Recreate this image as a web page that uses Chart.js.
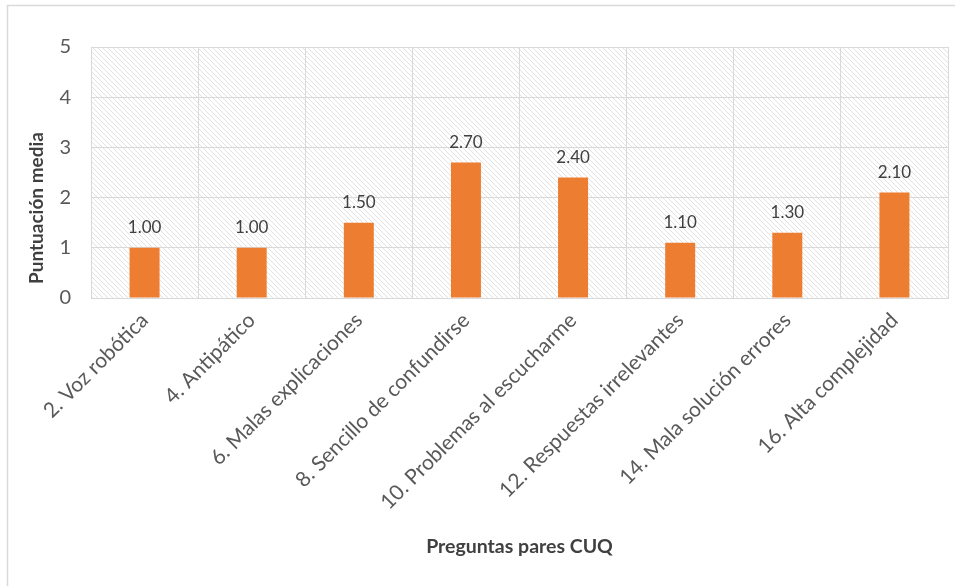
<!DOCTYPE html>
<html>
<head>
<meta charset="utf-8">
<script src="https://cdn.jsdelivr.net/npm/chart.js@4/dist/chart.umd.min.js"></script>
<style>
  html, body { margin: 0; padding: 0; background: #ffffff; }
  #wrap { width: 955px; height: 586px; position: relative; }
</style>
</head>
<body>
<div id="wrap"><canvas id="c" width="955" height="586"></canvas></div>
<script>
// Question labels (even CUQ items)
const categories = [
  '2. Voz robótica',
  '4. Antipático',
  '6. Malas explicaciones',
  '8. Sencillo de confundirse',
  '10. Problemas al escucharme',
  '12. Respuestas irrelevantes',
  '14. Mala solución errores',
  '16. Alta complejidad'
];
// Mean score per question
const meanScores = [1.00, 1.00, 1.50, 2.70, 2.40, 1.10, 1.30, 2.10];
// Y axis ticks
const yTicks = [0, 1, 2, 3, 4, 5];
const yTitle = 'Puntuación media';
const xTitle = 'Preguntas pares CUQ';

const FONT = 'Lato, "Open Sans", sans-serif';
const GRID = '#d9d9d9';

// Diagonal hatch tile for the plot background
function makeHatch() {
  const s = 5;
  const t = document.createElement('canvas');
  t.width = s; t.height = s;
  const g = t.getContext('2d');
  g.fillStyle = '#ffffff';
  g.fillRect(0, 0, s, s);
  g.fillStyle = '#e2e2e2';
  for (let i = 0; i < s; i++) g.fillRect(i, i, 1, 1);
  return g.createPattern(t, 'repeat');
}

const hatchPlugin = {
  id: 'hatchBg',
  beforeDraw(chart) {
    const { ctx, chartArea: a } = chart;
    ctx.save();
    ctx.fillStyle = '#ffffff';
    ctx.fillRect(0, 0, chart.width, chart.height);
    ctx.fillStyle = makeHatch();
    ctx.fillRect(a.left, a.top, a.right - a.left, a.bottom - a.top);
    ctx.restore();
  },
  afterDraw(chart) {
    const ctx = chart.ctx;
    ctx.save();
    // outer chart frame
    ctx.strokeStyle = GRID;
    ctx.lineWidth = 1.5;
    ctx.strokeRect(7.5, 5.5, 1000, 1000);
    // vertical axis title
    ctx.translate(37, 208);
    ctx.rotate(-Math.PI / 2);
    ctx.font = 'bold 19px ' + FONT;
    ctx.fillStyle = '#404040';
    ctx.textAlign = 'center';
    ctx.textBaseline = 'middle';
    ctx.fillText(yTitle, 0, 0);
    ctx.restore();
  }
};

const valueLabels = {
  id: 'valueLabels',
  afterDatasetsDraw(chart) {
    const ctx = chart.ctx;
    const meta = chart.getDatasetMeta(0);
    ctx.save();
    ctx.font = '17px ' + FONT;
    ctx.fillStyle = '#404040';
    ctx.textAlign = 'center';
    ctx.textBaseline = 'middle';
    meta.data.forEach((bar, i) => {
      ctx.fillText(meanScores[i].toFixed(2), bar.x, bar.y - 20);
    });
    ctx.restore();
  }
};

new Chart(document.getElementById('c'), {
  type: 'bar',
  data: {
    labels: categories,
    datasets: [{
      data: meanScores,
      backgroundColor: '#ED7D31',
      borderWidth: 0,
      categoryPercentage: 1,
      barPercentage: 0.28
    }]
  },
  options: {
    responsive: false,
    animation: false,
    devicePixelRatio: 1,
    layout: { padding: { left: 27, top: 47, right: 7, bottom: 28 } },
    plugins: {
      legend: { display: false },
      tooltip: { enabled: false }
    },
    scales: {
      x: {
        afterFit(scale) { scale.height = 260; },
        grid: { color: GRID, lineWidth: 1, offset: true, drawTicks: false },
        border: { color: GRID, width: 1 },
        ticks: {
          color: '#595959',
          font: { family: FONT, size: 21 },
          maxRotation: 45,
          minRotation: 45,
          autoSkip: false,
          padding: 10
        },
        title: {
          display: true,
          text: xTitle,
          color: '#404040',
          font: { family: FONT, size: 19.5, weight: 'bold' },
          padding: 0
        }
      },
      y: {
        min: 0,
        max: 5,
        afterFit(scale) { scale.width = 64; },
        afterBuildTicks(scale) { scale.ticks = yTicks.map(v => ({ value: v })); },
        grid: { color: GRID, lineWidth: 1, drawTicks: false },
        border: { color: GRID, width: 1 },
        ticks: {
          color: '#595959',
          font: { family: FONT, size: 20 },
          padding: 20
        },
        title: { display: false }
      }
    }
  },
  plugins: [hatchPlugin, valueLabels]
});
</script>
</body>
</html>
